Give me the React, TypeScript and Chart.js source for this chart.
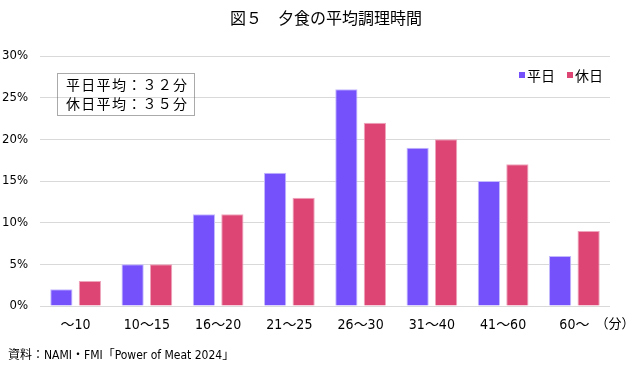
import React, { useEffect, useRef } from "react";
import { Chart, registerables } from "chart.js";
Chart.register(...registerables);

const categories = ["～10", "10～15", "16～20", "21～25", "26～30", "31～40", "41～60", "60～"];
const weekday = [2, 5, 11, 16, 26, 19, 15, 6];
const holiday = [3, 5, 11, 13, 22, 20, 17, 9];
const seriesNames = ["平日", "休日"];
const yTicks = [0, 5, 10, 15, 20, 25, 30];
const titleText = "図５　夕食の平均調理時間";
const noteLines = ["平日平均：３２分", "休日平均：３５分"];
const unitText = "（分）";
const sourceText = "資料：NAMI・FMI「Power of Meat 2024」";

const PURPLE = "#7451fb";
const PINK = "#dc4574";
const JP = '"Noto Sans CJK JP", sans-serif';
const NARROW = '"DejaVu Sans Condensed", "Noto Sans CJK JP", sans-serif';

const extras = {
  id: "extras",
  afterDraw(chart: any) {
    const ctx = chart.ctx;
    const area = chart.chartArea;
    ctx.save();
    // title
    ctx.fillStyle = "#000";
    ctx.font = `16px ${JP}`;
    ctx.textAlign = "center";
    ctx.textBaseline = "middle";
    ctx.fillText(titleText, 326, 18);
    // note box
    ctx.setLineDash([1, 1]);
    ctx.strokeStyle = "#555";
    ctx.lineWidth = 1;
    ctx.strokeRect(57.5, 73.5, 137, 42);
    ctx.setLineDash([]);
    ctx.font = `14px ${JP}`;
    ctx.textAlign = "left";
    ctx.fillStyle = "#000";
    (ctx as any).letterSpacing = "1.3px";
    ctx.fillText(noteLines[0], 66, 85);
    ctx.fillText(noteLines[1], 66, 104);
    (ctx as any).letterSpacing = "0px";
    // legend
    const colors = [PURPLE, PINK];
    const xs = [519, 567];
    ctx.font = `14px ${JP}`;
    for (let i = 0; i < 2; i++) {
      ctx.fillStyle = colors[i];
      ctx.fillRect(xs[i], 72, 6, 6);
      ctx.fillStyle = "#000";
      ctx.fillText(seriesNames[i], xs[i] + 8, 76);
    }
    // unit
    ctx.font = `13px ${JP}`;
    ctx.textAlign = "center";
    ctx.fillText(unitText, area.right + 5, 323);
    // source
    ctx.font = `12px ${NARROW}`;
    ctx.textAlign = "left";
    ctx.fillText(sourceText, 8, 356);
    ctx.restore();
  },
};

export default function App() {
  const ref = useRef<HTMLCanvasElement>(null);
  useEffect(() => {
    document.body.style.margin = "0";
    const chart = new Chart(ref.current!, {
      type: "bar",
      data: {
        labels: categories,
        datasets: [
          {
            label: seriesNames[0],
            data: weekday,
            backgroundColor: PURPLE,
            borderColor: "#c4b8fd",
            borderWidth: 1,
            categoryPercentage: 0.8,
            barPercentage: 0.78,
          },
          {
            label: seriesNames[1],
            data: holiday,
            backgroundColor: PINK,
            borderColor: "#eea5bc",
            borderWidth: 1,
            categoryPercentage: 0.8,
            barPercentage: 0.78,
          },
        ],
      },
      options: {
        animation: false,
        responsive: false,
        layout: { padding: { top: 56, right: 30, bottom: 16, left: 0 } },
        plugins: { legend: { display: false }, tooltip: { enabled: false }, title: { display: false } },
        scales: {
          x: {
            grid: { display: false, drawTicks: false },
            border: { display: false },
            ticks: { color: "#000", font: { family: NARROW, size: 14 }, padding: 11, maxRotation: 0 },
            afterFit: (s: any) => { s.height = 50; },
          },
          y: {
            min: 0,
            max: 30,
            afterBuildTicks: (s: any) => { s.ticks = yTicks.map((v) => ({ value: v })); },
            grid: { color: "#d9d9d9", drawTicks: false, lineWidth: 1 },
            border: { display: false },
            ticks: {
              color: "#000",
              font: { family: NARROW, size: 13 },
              padding: 12,
              callback: (v: any) => `${v}%`,
            },
            afterFit: (s: any) => { s.width = 40; },
          },
        },
      },
      plugins: [extras],
    });
    return () => chart.destroy();
  }, []);
  return <canvas ref={ref} width={640} height={372} style={{ display: "block" }} />;
}
